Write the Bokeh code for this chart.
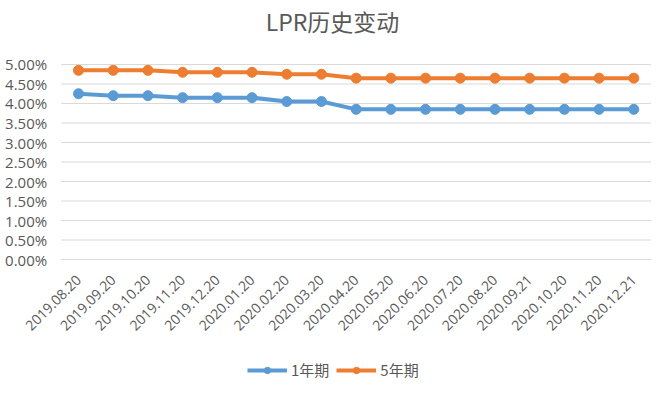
from bokeh.plotting import figure
from bokeh.models import Legend, LegendItem, FixedTicker, CustomJSTickFormatter, Label, Range1d
from bokeh.embed import file_html
from bokeh.resources import INLINE
import math

dates = ["2019.08.20", "2019.09.20", "2019.10.20", "2019.11.20", "2019.12.20",
         "2020.01.20", "2020.02.20", "2020.03.20", "2020.04.20", "2020.05.20",
         "2020.06.20", "2020.07.20", "2020.08.20", "2020.09.21", "2020.10.20",
         "2020.11.20", "2020.12.21"]
lpr_1y = [4.25, 4.20, 4.20, 4.15, 4.15, 4.15, 4.05, 4.05, 3.85, 3.85,
          3.85, 3.85, 3.85, 3.85, 3.85, 3.85, 3.85]
lpr_5y = [4.85, 4.85, 4.85, 4.80, 4.80, 4.80, 4.75, 4.75, 4.65, 4.65,
          4.65, 4.65, 4.65, 4.65, 4.65, 4.65, 4.65]
y_ticks = [0, 0.5, 1.0, 1.5, 2.0, 2.5, 3.0, 3.5, 4.0, 4.5, 5.0]

BLUE = "#5B9BD5"
ORANGE = "#ED7D31"
GRAY = "#595959"

idx = list(range(len(dates)))
n = len(dates)

# frame spans the whole canvas; ranges leave room for title, axis labels, legend
p = figure(x_range=Range1d(-2.248, 16.51), y_range=Range1d(-3.282, 6.641),
           width=658, height=387,
           output_backend="svg", toolbar_location=None,
           min_border_left=0, min_border_right=7, min_border_top=0,
           min_border_bottom=0)
p.outline_line_color = None
p.xgrid.visible = False
p.ygrid.visible = False

# horizontal gridlines across the category area
p.segment(x0=-0.5, x1=n - 0.5, y0=y_ticks, y1=y_ticks, line_color="#D9D9D9", line_width=1)

title = Label(text="LPR历史变动", x=332, y=367, x_units="screen", y_units="screen",
              text_align="center", text_baseline="middle",
              text_font_size="23px", text_color=GRAY, text_font="Noto Sans CJK SC")
p.add_layout(title)

r1l = p.line(idx, lpr_1y, color=BLUE, line_width=4)
r1s = p.scatter(idx, lpr_1y, color=BLUE, size=10)
r2l = p.line(idx, lpr_5y, color=ORANGE, line_width=4)
r2s = p.scatter(idx, lpr_5y, color=ORANGE, size=10)

p.yaxis.fixed_location = -0.5
p.yaxis.ticker = FixedTicker(ticks=y_ticks)
p.yaxis.formatter = CustomJSTickFormatter(code="return tick.toFixed(2) + '%';")
p.yaxis.axis_line_color = None
p.yaxis.major_tick_line_color = None
p.yaxis.minor_tick_line_color = None
p.yaxis.major_label_text_font_size = "15px"
p.yaxis.major_label_text_color = GRAY
p.yaxis.major_label_text_font = "Open Sans"
p.yaxis.major_label_standoff = 8

p.xaxis.fixed_location = 0
p.xaxis.ticker = FixedTicker(ticks=idx)
p.xaxis.major_label_overrides = {i: d for i, d in zip(idx, dates)}
p.xaxis.axis_line_color = None
p.xaxis.major_tick_line_color = None
p.xaxis.minor_tick_line_color = None
p.xaxis.major_label_orientation = math.pi / 4
p.xaxis.major_label_text_font_size = "14px"
p.xaxis.major_label_text_color = GRAY
p.xaxis.major_label_text_font = "Open Sans"
p.xaxis.major_label_standoff = 12

legend = Legend(items=[LegendItem(label="1年期", renderers=[r1l, r1s]),
                       LegendItem(label="5年期", renderers=[r2l, r2s])],
                orientation="horizontal", location=(247, 7),
                glyph_width=40, glyph_height=16, label_height=16,
                label_text_font_size="15px",
                label_text_color=GRAY, label_text_font="Noto Sans CJK SC",
                border_line_color=None, background_fill_alpha=0,
                spacing=7, label_standoff=4, padding=0, margin=0)
p.add_layout(legend, "center")

open("out.html", "w").write(file_html(p, INLINE))
